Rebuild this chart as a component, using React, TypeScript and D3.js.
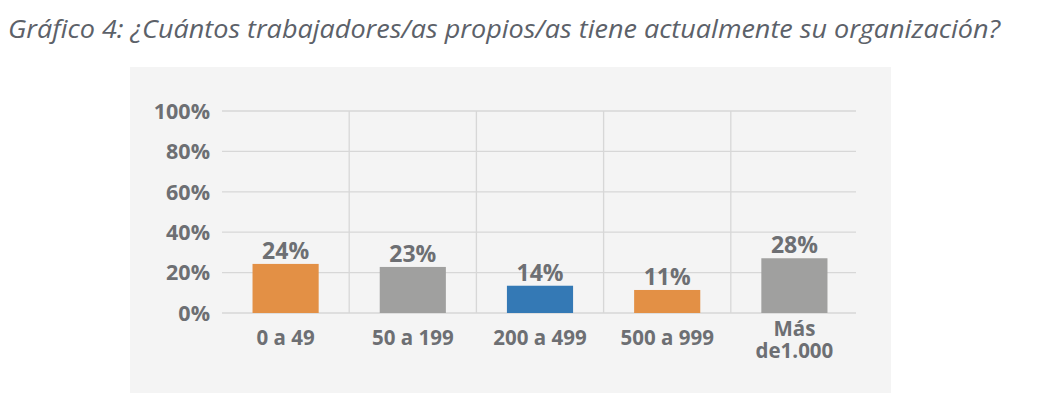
import React from "react";
import * as d3 from "d3";

const categories = ["0 a 49", "50 a 199", "200 a 499", "500 a 999", "Más de1.000"];
const values = [24.3, 22.8, 13.5, 11.4, 27.1]; // bar heights as drawn
const valueLabels = ["24%", "23%", "14%", "11%", "28%"];
const barColors = ["#E39045", "#A0A09F", "#3479B5", "#E39045", "#A0A09F"];
const yTicks = [0, 20, 40, 60, 80, 100];

const title = "Gráfico 4: ¿Cuántos trabajadores/as propios/as tiene actualmente su organización?";

const App = () => {
  const width = 1040;
  const height = 410;
  const plot = { left: 222, right: 858, top: 111, bottom: 313 };
  const textColor = "#6D6F73";
  const font = "'Open Sans', 'Noto Sans', sans-serif";

  const x = d3.scaleBand().domain(categories).range([plot.left, plot.right]).paddingInner(0).paddingOuter(0);
  const y = d3.scaleLinear().domain([0, 100]).range([plot.bottom, plot.top]);
  const barW = x.bandwidth() * 0.52;

  return (
    <svg width={width} height={height} style={{ position: "absolute", left: 0, top: 0 }}>
      <rect width={width} height={height} fill="#ffffff" />
      <text
        x={8}
        y={38}
        fontFamily={font}
        fontStyle="italic"
        fontSize={25.5}
        fill="#5C6169"
        textLength={992}
        lengthAdjust="spacingAndGlyphs"
      >
        {title}
      </text>

      {/* panel */}
      <rect x={130} y={67} width={761} height={326} fill="#F4F4F4" />

      {/* horizontal grid */}
      {yTicks.map((t) => (
        <line key={t} x1={plot.left} x2={plot.right - 2} y1={y(t)} y2={y(t)} stroke="#D7D7D7" strokeWidth={1.3} />
      ))}
      {/* vertical separators */}
      {categories.slice(1).map((c) => (
        <line key={c} x1={x(c)} x2={x(c)} y1={plot.top} y2={plot.bottom} stroke="#D7D7D7" strokeWidth={1.3} />
      ))}

      {/* y labels */}
      {yTicks.map((t) => (
        <text
          key={t}
          x={210}
          y={y(t)}
          dy="0.36em"
          textAnchor="end"
          fontFamily={font}
          fontWeight="bold"
          fontSize={21.5}
          fill={textColor}
        >
          {t}%
        </text>
      ))}

      {/* bars */}
      {categories.map((c, i) => {
        const cx = (x(c) as number) + x.bandwidth() / 2;
        return (
          <g key={c}>
            <rect
              x={cx - barW / 2}
              y={y(values[i])}
              width={barW}
              height={y(0) - y(values[i])}
              fill={barColors[i]}
            />
            <text
              x={cx}
              y={y(values[i]) - 5}
              textAnchor="middle"
              fontFamily={font}
              fontWeight="bold"
              fontSize={23}
              fill={textColor}
            >
              {valueLabels[i]}
            </text>
          </g>
        );
      })}

      {/* x labels */}
      {categories.map((c) => {
        const cx = (x(c) as number) + x.bandwidth() / 2;
        const lines = c === "Más de1.000" ? ["Más", "de1.000"] : [c];
        return (
          <text key={c} textAnchor="middle" fontFamily={font} fontWeight="bold" fontSize={20.5} fill={textColor}>
            {lines.map((l, j) => (
              <tspan key={l} x={cx} y={(lines.length > 1 ? 336 : 345) + j * 22}>
                {l}
              </tspan>
            ))}
          </text>
        );
      })}
    </svg>
  );
};

export default App;
